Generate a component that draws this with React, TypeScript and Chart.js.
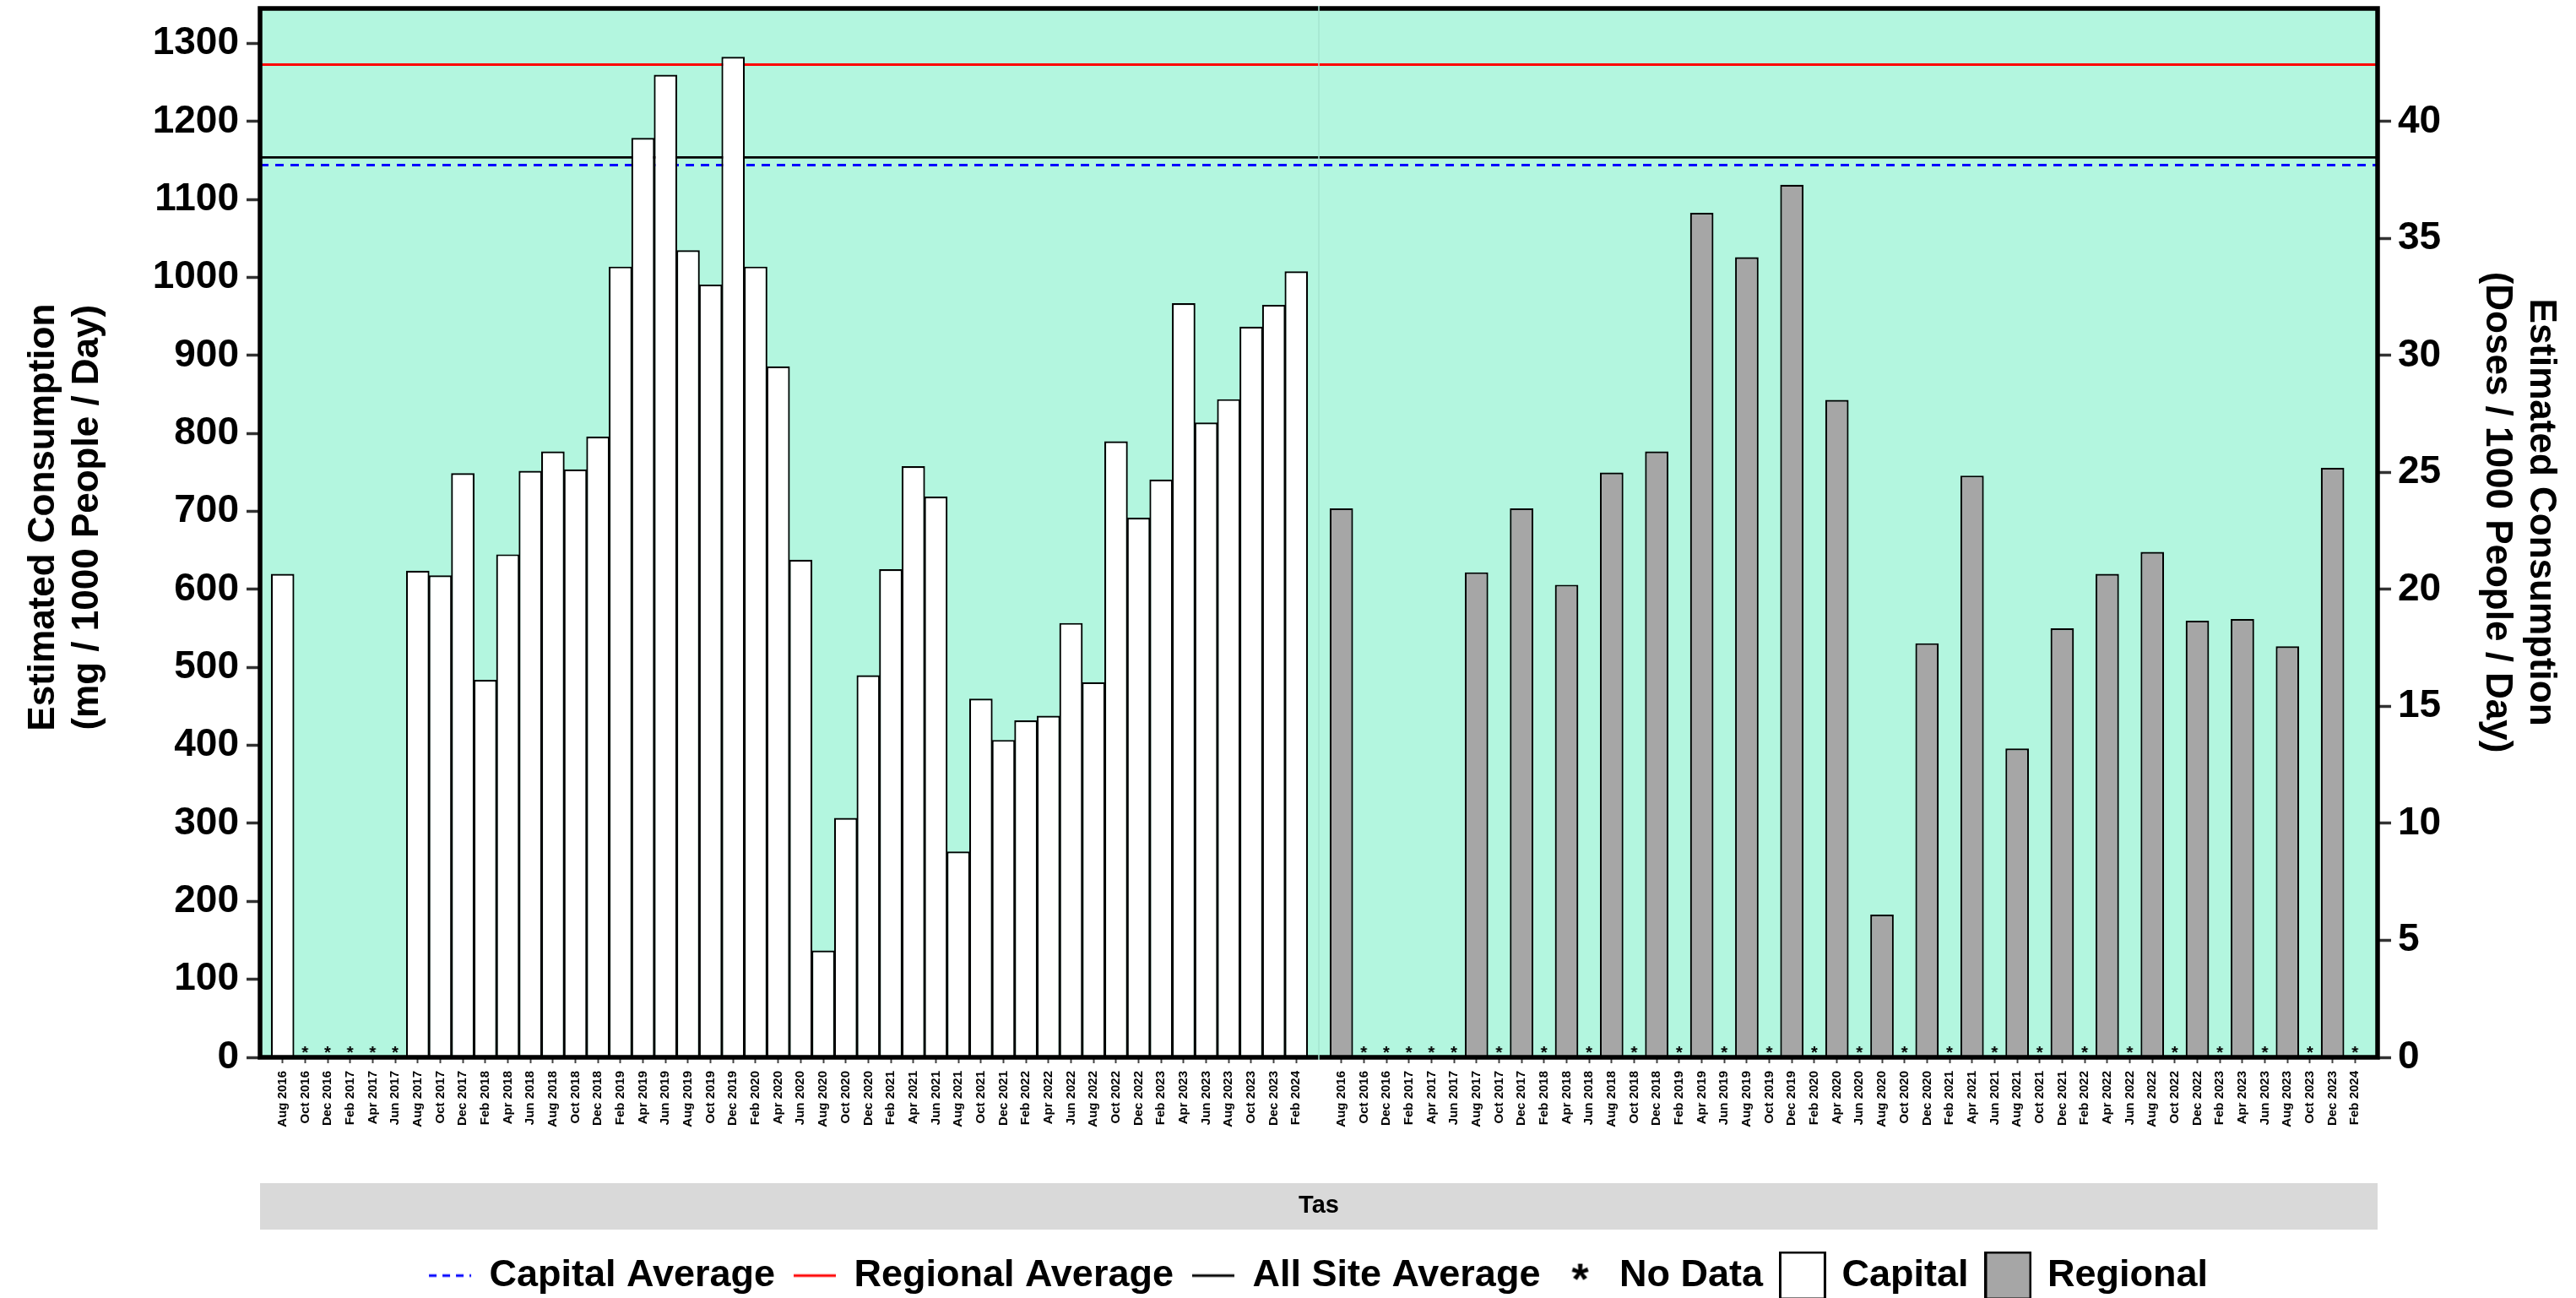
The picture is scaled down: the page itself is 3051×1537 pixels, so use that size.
import React, { useEffect, useRef } from 'react';
import { Chart, registerables } from 'chart.js';

Chart.register(...registerables);

const dates = [
  'Aug 2016', 'Oct 2016', 'Dec 2016',
  'Feb 2017', 'Apr 2017', 'Jun 2017', 'Aug 2017', 'Oct 2017', 'Dec 2017',
  'Feb 2018', 'Apr 2018', 'Jun 2018', 'Aug 2018', 'Oct 2018', 'Dec 2018',
  'Feb 2019', 'Apr 2019', 'Jun 2019', 'Aug 2019', 'Oct 2019', 'Dec 2019',
  'Feb 2020', 'Apr 2020', 'Jun 2020', 'Aug 2020', 'Oct 2020', 'Dec 2020',
  'Feb 2021', 'Apr 2021', 'Jun 2021', 'Aug 2021', 'Oct 2021', 'Dec 2021',
  'Feb 2022', 'Apr 2022', 'Jun 2022', 'Aug 2022', 'Oct 2022', 'Dec 2022',
  'Feb 2023', 'Apr 2023', 'Jun 2023', 'Aug 2023', 'Oct 2023', 'Dec 2023',
  'Feb 2024',
];

// mg / 1000 people / day ; null = no data
const capitalValues: (number | null)[] = [
  620, null, null, null, null, null, 624, 618, 749,
  484, 645, 752, 777, 754, 796,
  1014, 1179, 1260, 1035, 991, 1283,
  1014, 886, 638, 137, 307, 490,
  626, 758, 719, 264, 460, 407,
  432, 438, 557, 481, 790, 692,
  741, 967, 814, 844, 937, 965,
  1008,
];

const regionalValues: (number | null)[] = [
  704, null, null, null, null, null, 622, null, 704,
  null, 606, null, 750, null, 777,
  null, 1083, null, 1026, null, 1119,
  null, 843, null, 183, null, 531,
  null, 746, null, 396, null, 550,
  null, 620, null, 648, null, 560,
  null, 562, null, 527, null, 756,
  null,
];

const capitalAverage = 1144;
const regionalAverage = 1273;
const allSiteAverage = 1154;

const yMax = 1345;
const mgPerDose = 30;
const facetLabel = 'Tas';

const FONT = "'Liberation Sans', Arial, Helvetica, sans-serif";
const MINT = '#b3f6df';

function makeCanvas(w: number, h: number, draw: (ctx: CanvasRenderingContext2D) => void) {
  const c = document.createElement('canvas');
  c.width = w;
  c.height = h;
  const ctx = c.getContext('2d') as CanvasRenderingContext2D;
  draw(ctx);
  return c;
}

export default function App() {
  const ref = useRef<HTMLCanvasElement>(null);

  useEffect(() => {
    document.body.style.margin = '0';
    if (!ref.current) return;

    const labels = ['', ...dates, '', ...dates, ''];
    const capStart = 1;
    const regStart = dates.length + 2;
    const inCap = (i: number) => i >= capStart && i < capStart + dates.length;
    const inReg = (i: number) => i >= regStart && i < regStart + dates.length;

    const capData = labels.map((_, i) => (inCap(i) ? capitalValues[i - capStart] : null));
    const regData = labels.map((_, i) => (inReg(i) ? regionalValues[i - regStart] : null));
    const noData = labels.map((_, i) => {
      if (inCap(i)) return capitalValues[i - capStart] == null ? 0 : null;
      if (inReg(i)) return regionalValues[i - regStart] == null ? 0 : null;
      return null;
    });

    const starImg = makeCanvas(24, 40, (ctx) => {
      ctx.fillStyle = '#000';
      ctx.font = `bold 20px ${FONT}`;
      ctx.textAlign = 'center';
      ctx.textBaseline = 'alphabetic';
      ctx.fillText('*', 12, 20.5);
    });

    const lineImg = (color: string, width: number, dash: number[]) =>
      makeCanvas(56, 8, (ctx) => {
        ctx.strokeStyle = color;
        ctx.lineWidth = width;
        ctx.setLineDash(dash);
        ctx.beginPath();
        ctx.moveTo(3, 4);
        ctx.lineTo(53, 4);
        ctx.stroke();
      });

    const legendStar = makeCanvas(56, 80, (ctx) => {
      ctx.fillStyle = '#000';
      ctx.font = `bold 52px ${FONT}`;
      ctx.textAlign = 'center';
      ctx.textBaseline = 'alphabetic';
      ctx.fillText('*', 28, 62);
    });

    const boxImg = (fill: string) =>
      makeCanvas(56, 58, (ctx) => {
        ctx.fillStyle = fill;
        ctx.fillRect(0, 0, 56, 58);
        ctx.strokeStyle = '#000';
        ctx.lineWidth = 3;
        ctx.strokeRect(1.5, 1.5, 53, 55);
      });

    const legendDefs = [
      { text: 'Capital Average', img: lineImg('#0000ff', 3, [9, 7]) },
      { text: 'Regional Average', img: lineImg('#ff0000', 3, []) },
      { text: 'All Site Average', img: lineImg('#000000', 3, []) },
      { text: 'No Data', img: legendStar },
      { text: 'Capital', img: boxImg('#ffffff') },
      { text: 'Regional', img: boxImg('#a6a6a6') },
    ];

    const panelPlugin = {
      id: 'panelPlugin',
      beforeDraw(chart: any) {
        const { ctx, chartArea: a, scales } = chart;
        ctx.save();
        ctx.fillStyle = MINT;
        ctx.fillRect(a.left, a.top, a.right - a.left, a.bottom - a.top);
        const xs = scales.x;
        ctx.fillStyle = '#d9d9d9';
        ctx.fillRect(a.left, xs.bottom - 64, a.right - a.left, 55);
        ctx.restore();
      },
      afterDatasetsDraw(chart: any) {
        const { ctx, chartArea: a, scales } = chart;
        ctx.save();
        ctx.strokeStyle = '#000';
        ctx.lineWidth = 5.5;
        ctx.strokeRect(a.left, a.top, a.right - a.left, a.bottom - a.top);
        const dx = scales.x.getPixelForValue(regStart - 1);
        ctx.strokeStyle = '#a3e5cf';
        ctx.lineWidth = 1.5;
        ctx.beginPath();
        ctx.moveTo(dx, a.top - 3);
        ctx.lineTo(dx, a.bottom + 3);
        ctx.stroke();
        ctx.restore();
      },
    };

    Chart.defaults.font.family = FONT;
    Chart.defaults.color = '#000';

    const avgLine = (label: string, value: number, color: string, width: number, dash: number[]) => ({
      type: 'line' as const,
      label,
      data: labels.map(() => value),
      borderColor: color,
      borderWidth: width,
      borderDash: dash,
      pointRadius: 0,
      fill: false,
      tension: 0,
      order: 5,
      yAxisID: 'y',
    });

    const noPad = (s: any) => {
      s.paddingTop = 0;
      s.paddingBottom = 0;
    };

    const chart = new Chart(ref.current, {
      type: 'bar',
      data: {
        labels,
        datasets: [
          {
            type: 'line',
            label: 'No Data',
            data: noData,
            showLine: false,
            pointStyle: starImg as any,
            pointRadius: 3,
            order: 0,
            yAxisID: 'y',
          } as any,
          {
            type: 'bar',
            label: 'Capital',
            data: capData,
            backgroundColor: '#ffffff',
            borderColor: '#000000',
            borderWidth: 2.2,
            grouped: false,
            barPercentage: 1.04,
            categoryPercentage: 1,
            order: 1,
            yAxisID: 'y',
          } as any,
          {
            type: 'bar',
            label: 'Regional',
            data: regData,
            backgroundColor: '#a6a6a6',
            borderColor: '#000000',
            borderWidth: 2.2,
            grouped: false,
            barPercentage: 1.04,
            categoryPercentage: 1,
            order: 1,
            yAxisID: 'y',
          } as any,
          avgLine('Capital Average', capitalAverage, '#0000ff', 3, [10, 8]) as any,
          avgLine('Regional Average', regionalAverage, '#ff0000', 3, []) as any,
          avgLine('All Site Average', allSiteAverage, '#000000', 2.6, []) as any,
        ],
      },
      options: {
        responsive: false,
        animation: false,
        devicePixelRatio: 1,
        events: [],
        layout: { padding: { top: 10, left: 0, right: 0, bottom: -6 } },
        scales: {
          x: {
            type: 'category',
            offset: false,
            grid: {
              display: true,
              drawOnChartArea: false,
              drawTicks: true,
              tickLength: 7,
              tickWidth: 2,
              offset: false,
              tickColor: (c: any) => (labels[c.index] ? '#444444' : 'rgba(0,0,0,0)'),
            },
            border: { display: false },
            ticks: {
              autoSkip: false,
              maxRotation: 90,
              minRotation: 90,
              padding: 9,
              color: '#000',
              font: { family: FONT, size: 15, weight: 'bold' },
            },
            title: {
              display: true,
              text: facetLabel,
              color: '#000',
              font: { family: FONT, size: 29, weight: 'bold' },
              padding: { top: 0, bottom: 20 },
            },
            afterFit: (s: any) => {
              s.height = 213;
              s.paddingLeft = 0;
              s.paddingRight = 0;
            },
          } as any,
          y: {
            type: 'linear',
            position: 'left',
            min: 0,
            max: yMax,
            ticks: {
              stepSize: 100,
              includeBounds: false,
              padding: 9,
              color: '#000',
              font: { family: FONT, size: 46, weight: 'bold' },
              callback: (v: any) => String(v),
            },
            grid: { drawOnChartArea: false, tickLength: 16, tickWidth: 3.5, tickColor: '#333333' },
            border: { display: false },
            title: {
              display: true,
              text: ['   Estimated Consumption', '   (mg / 1000 People / Day)'],
              color: '#000',
              font: { family: FONT, size: 44, weight: 'bold' },
              padding: { top: 25, bottom: 0 },
            },
            afterFit: (s: any) => {
              s.width = 308;
              noPad(s);
            },
          } as any,
          y1: {
            type: 'linear',
            position: 'right',
            min: 0,
            max: yMax / mgPerDose,
            ticks: {
              stepSize: 5,
              includeBounds: false,
              padding: 8,
              color: '#000',
              font: { family: FONT, size: 46, weight: 'bold' },
              callback: (v: any) => String(v),
            },
            grid: { drawOnChartArea: false, tickLength: 16, tickWidth: 3.5, tickColor: '#333333' },
            border: { display: false },
            title: {
              display: true,
              text: ['Estimated Consumption    ', '(Doses / 1000 People / Day)    '],
              color: '#000',
              font: { family: FONT, size: 44, weight: 'bold' },
              padding: { top: 15, bottom: 0 },
            },
            afterFit: (s: any) => {
              s.width = 235;
              noPad(s);
            },
          } as any,
        },
        plugins: {
          legend: {
            position: 'bottom',
            fullSize: false,
            onClick: () => {},
            labels: {
              usePointStyle: true,
              pointStyleWidth: 48,
              boxHeight: 45,
              padding: 23,
              color: '#000',
              font: { family: FONT, size: 45, weight: 'bold' },
              generateLabels: () =>
                legendDefs.map((d, i) => ({
                  text: d.text,
                  pointStyle: d.img as any,
                  fillStyle: 'rgba(0,0,0,0)',
                  strokeStyle: 'rgba(0,0,0,0)',
                  lineWidth: 0,
                  hidden: false,
                  datasetIndex: i,
                })),
            },
          } as any,
          tooltip: { enabled: false },
        },
      },
      plugins: [panelPlugin],
    });

    return () => {
      chart.destroy();
    };
  }, []);

  return (
    <div style={{ width: 3051, height: 1537 }}>
      <canvas ref={ref} width={3051} height={1537} style={{ display: 'block', width: 3051, height: 1537 }} />
    </div>
  );
}
